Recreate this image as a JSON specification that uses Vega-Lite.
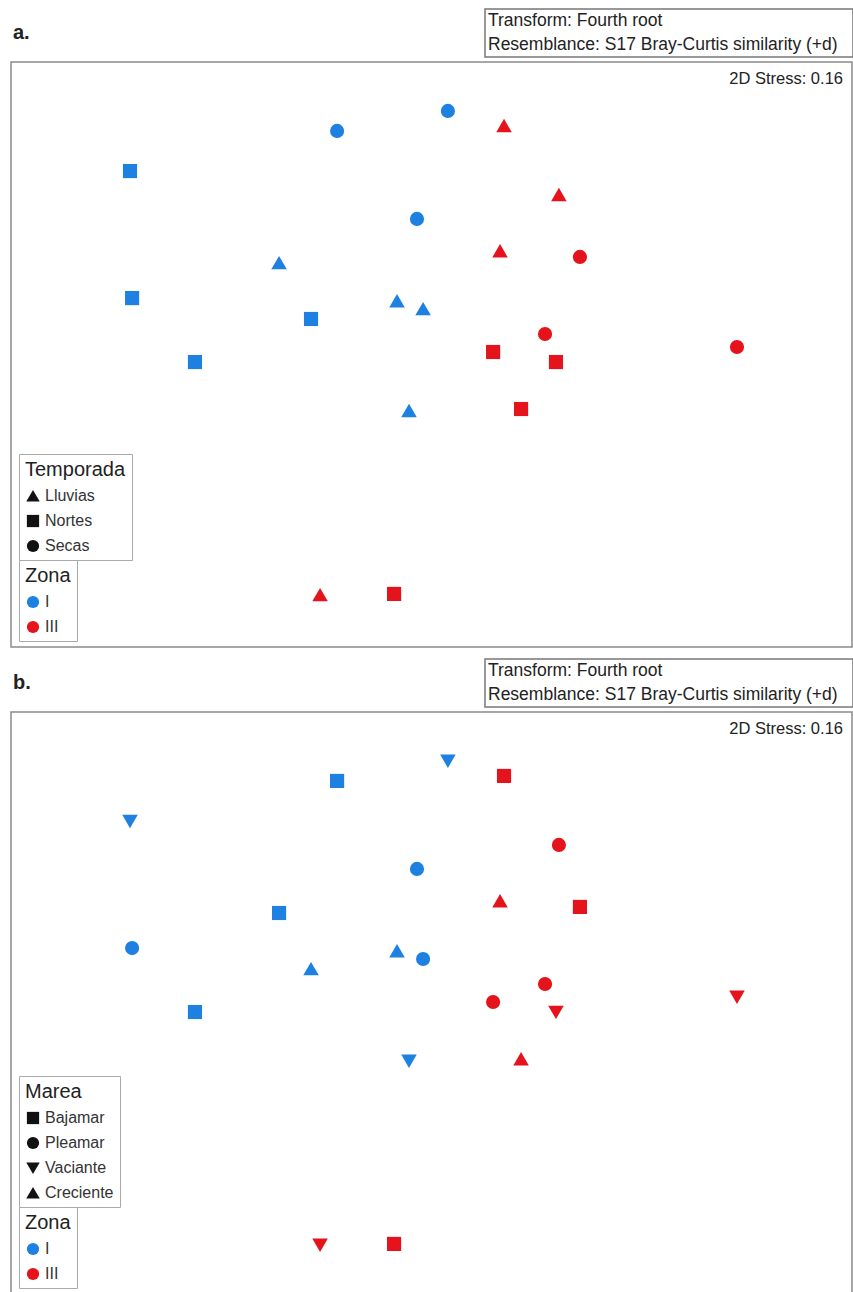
{
  "$schema": "https://vega.github.io/schema/vega-lite/v6.json",
  "background": "white",
  "padding": {"left": 10, "top": 8, "right": 0, "bottom": 0},
  "config": {
    "view": {"stroke": null},
    "font": "Liberation Sans",
    "legend": {
      "titleFontSize": 20, "titleFontWeight": "normal", "titleColor": "#222",
      "labelFontSize": 16, "labelColor": "#333", "symbolSize": 150,
      "rowPadding": 9, "titlePadding": 8, "padding": 6,
      "strokeColor": "#aaaaaa", "fillColor": "white", "symbolStrokeWidth": 0
    }
  },
  "datasets": {
    "pts": [
      {"x": -0.449, "y": 1.070, "zona": "I", "temporada": "Secas", "marea": "Bajamar"},
      {"x": 0.078, "y": 1.166, "zona": "I", "temporada": "Secas", "marea": "Vaciante"},
      {"x": -0.069, "y": 0.649, "zona": "I", "temporada": "Secas", "marea": "Pleamar"},
      {"x": -1.434, "y": 0.878, "zona": "I", "temporada": "Nortes", "marea": "Vaciante"},
      {"x": -1.424, "y": 0.270, "zona": "I", "temporada": "Nortes", "marea": "Pleamar"},
      {"x": -0.573, "y": 0.170, "zona": "I", "temporada": "Nortes", "marea": "Creciente"},
      {"x": -1.125, "y": -0.036, "zona": "I", "temporada": "Nortes", "marea": "Bajamar"},
      {"x": -0.725, "y": 0.438, "zona": "I", "temporada": "Lluvias", "marea": "Bajamar"},
      {"x": -0.164, "y": 0.256, "zona": "I", "temporada": "Lluvias", "marea": "Creciente"},
      {"x": -0.040, "y": 0.218, "zona": "I", "temporada": "Lluvias", "marea": "Pleamar"},
      {"x": -0.107, "y": -0.270, "zona": "I", "temporada": "Lluvias", "marea": "Vaciante"},
      {"x": 0.345, "y": 1.094, "zona": "III", "temporada": "Lluvias", "marea": "Bajamar"},
      {"x": 0.606, "y": 0.764, "zona": "III", "temporada": "Lluvias", "marea": "Pleamar"},
      {"x": 0.326, "y": 0.495, "zona": "III", "temporada": "Lluvias", "marea": "Creciente"},
      {"x": 0.706, "y": 0.467, "zona": "III", "temporada": "Secas", "marea": "Bajamar"},
      {"x": 0.540, "y": 0.098, "zona": "III", "temporada": "Secas", "marea": "Pleamar"},
      {"x": 1.453, "y": 0.036, "zona": "III", "temporada": "Secas", "marea": "Vaciante"},
      {"x": 0.293, "y": 0.012, "zona": "III", "temporada": "Nortes", "marea": "Pleamar"},
      {"x": 0.592, "y": -0.036, "zona": "III", "temporada": "Nortes", "marea": "Vaciante"},
      {"x": 0.426, "y": -0.261, "zona": "III", "temporada": "Nortes", "marea": "Creciente"},
      {"x": -0.530, "y": -1.151, "zona": "III", "temporada": "Lluvias", "marea": "Vaciante"},
      {"x": -0.178, "y": -1.146, "zona": "III", "temporada": "Nortes", "marea": "Bajamar"}
    ]
  },
  "spacing": 10,
  "resolve": {
    "scale": {"x": "independent", "y": "independent", "color": "independent", "shape": "independent"},
    "legend": {"color": "independent", "shape": "independent"}
  },
  "vconcat": [
    {
      "spacing": 3,
      "resolve": {"scale": {"x": "independent", "y": "independent"}},
      "vconcat": [
        {
          "spacing": 0,
          "resolve": {"scale": {"x": "independent", "y": "independent"}},
          "hconcat": [
            {
              "width": 473, "height": 48,
              "data": {"values": [{"label": "a."}]},
              "mark": {"type": "text", "align": "left", "baseline": "middle", "fontSize": 20, "fontWeight": "bold", "dx": 2, "color": "#222"},
              "encoding": {
                "x": {"datum": 0, "type": "quantitative", "scale": {"domain": [0, 1]}, "axis": null},
                "text": {"field": "label"}
              }
            },
            {
              "width": 368, "height": 48,
              "view": {"stroke": "#777777", "strokeWidth": 1.5},
              "data": {"values": [{"line": 1, "txt": "Transform: Fourth root"}, {"line": 2, "txt": "Resemblance: S17 Bray-Curtis similarity (+d)"}]},
              "mark": {"type": "text", "align": "left", "baseline": "middle", "fontSize": 17.5, "dx": 3, "color": "#222"},
              "encoding": {
                "x": {"datum": 0, "type": "quantitative", "scale": {"domain": [0, 1]}, "axis": null},
                "y": {"field": "line", "type": "ordinal", "axis": null},
                "text": {"field": "txt"}
              }
            }
          ]
        },
        {
          "width": 841, "height": 585,
          "view": {"stroke": "#8a8a8a", "strokeWidth": 1.5},
          "layer": [
            {
              "data": {"name": "pts"},
              "mark": {"type": "point", "filled": true, "opacity": 1, "size": 200},
              "encoding": {
                "x": {"field": "x", "type": "quantitative", "scale": {"domain": [-2, 2], "nice": false, "zero": false}, "axis": null},
                "y": {"field": "y", "type": "quantitative", "scale": {"domain": [-1.4, 1.4], "nice": false, "zero": false}, "axis": null},
                "color": {"field": "zona", "type": "nominal", "scale": {"domain": ["I", "III"], "range": ["#1E80E0", "#E5131B"]},
                  "legend": {"title": "Zona", "orient": "none", "legendX": 8, "legendY": 551, "symbolType": "circle"}},
                "shape": {"field": "temporada", "type": "nominal", "scale": {"domain": ["Lluvias", "Nortes", "Secas"], "range": ["M0,-1L1.1,0.9L-1.1,0.9Z", "square", "circle"]},
                  "legend": {"title": "Temporada", "orient": "none", "legendX": 8, "legendY": 445, "symbolFillColor": "#111", "symbolStrokeColor": "#111"}}
              }
            },
            {
              "data": {"values": [{"t": "2D Stress: 0.16"}]},
              "mark": {"type": "text", "align": "right", "baseline": "top", "dx": -9, "dy": 9, "fontSize": 16.5, "color": "#222"},
              "encoding": {
                "x": {"datum": 2, "type": "quantitative"},
                "y": {"datum": 1.4, "type": "quantitative"},
                "text": {"field": "t"}
              }
            }
          ]
        }
      ]
    },
    {
      "spacing": 3,
      "resolve": {"scale": {"x": "independent", "y": "independent"}},
      "vconcat": [
        {
          "spacing": 0,
          "resolve": {"scale": {"x": "independent", "y": "independent"}},
          "hconcat": [
            {
              "width": 473, "height": 48,
              "data": {"values": [{"label": "b."}]},
              "mark": {"type": "text", "align": "left", "baseline": "middle", "fontSize": 20, "fontWeight": "bold", "dx": 2, "color": "#222"},
              "encoding": {
                "x": {"datum": 0, "type": "quantitative", "scale": {"domain": [0, 1]}, "axis": null},
                "text": {"field": "label"}
              }
            },
            {
              "width": 368, "height": 48,
              "view": {"stroke": "#777777", "strokeWidth": 1.5},
              "data": {"values": [{"line": 1, "txt": "Transform: Fourth root"}, {"line": 2, "txt": "Resemblance: S17 Bray-Curtis similarity (+d)"}]},
              "mark": {"type": "text", "align": "left", "baseline": "middle", "fontSize": 17.5, "dx": 3, "color": "#222"},
              "encoding": {
                "x": {"datum": 0, "type": "quantitative", "scale": {"domain": [0, 1]}, "axis": null},
                "y": {"field": "line", "type": "ordinal", "axis": null},
                "text": {"field": "txt"}
              }
            }
          ]
        },
        {
          "width": 841, "height": 585,
          "view": {"stroke": "#8a8a8a", "strokeWidth": 1.5},
          "layer": [
            {
              "data": {"name": "pts"},
              "mark": {"type": "point", "filled": true, "opacity": 1, "size": 200},
              "encoding": {
                "x": {"field": "x", "type": "quantitative", "scale": {"domain": [-2, 2], "nice": false, "zero": false}, "axis": null},
                "y": {"field": "y", "type": "quantitative", "scale": {"domain": [-1.4, 1.4], "nice": false, "zero": false}, "axis": null},
                "color": {"field": "zona", "type": "nominal", "scale": {"domain": ["I", "III"], "range": ["#1E80E0", "#E5131B"]},
                  "legend": {"title": "Zona", "orient": "none", "legendX": 8, "legendY": 548, "symbolType": "circle"}},
                "shape": {"field": "marea", "type": "nominal", "scale": {"domain": ["Bajamar", "Pleamar", "Vaciante", "Creciente"], "range": ["square", "circle", "M0,1L1.1,-0.9L-1.1,-0.9Z", "M0,-1L1.1,0.9L-1.1,0.9Z"]},
                  "legend": {"title": "Marea", "orient": "none", "legendX": 8, "legendY": 417, "symbolFillColor": "#111", "symbolStrokeColor": "#111"}}
              }
            },
            {
              "data": {"values": [{"t": "2D Stress: 0.16"}]},
              "mark": {"type": "text", "align": "right", "baseline": "top", "dx": -9, "dy": 9, "fontSize": 16.5, "color": "#222"},
              "encoding": {
                "x": {"datum": 2, "type": "quantitative"},
                "y": {"datum": 1.4, "type": "quantitative"},
                "text": {"field": "t"}
              }
            }
          ]
        }
      ]
    }
  ]
}
